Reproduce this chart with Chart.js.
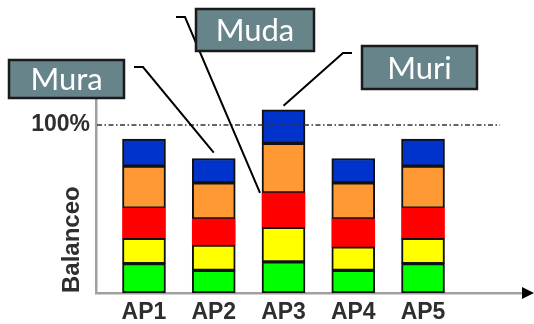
<!DOCTYPE html>
<html>
<head>
<meta charset="utf-8">
<script src="https://cdn.jsdelivr.net/npm/chart.js@4"></script>
<style>
  html, body { margin: 0; padding: 0; background: #ffffff; }
  #wrap { width: 534px; height: 324px; position: relative; }
</style>
</head>
<body>
<div id="wrap"><canvas id="chart" width="534" height="324"></canvas></div>
<script>
// Workstations and the share of the cycle taken by each load layer (in %)
const categories = ['AP1', 'AP2', 'AP3', 'AP4', 'AP5'];
const green  = [17.5, 13.5, 18.5, 13.5, 17.5];
const yellow = [15, 15, 20.5, 14, 15];
const red    = [18, 15.5, 20.5, 16.5, 18];
const orange = [25, 21.5, 29.5, 21.5, 25];
const blue   = [16, 14.5, 20, 14.5, 16];
const yTicks = [100];
const calloutLabels = ['Mura', 'Muda', 'Muri'];

const layers = [
  { values: green,  color: '#00ff00', border: 2 },
  { values: yellow, color: '#ffff00', border: 2 },
  { values: red,    color: '#ff0000', border: 0 },
  { values: orange, color: '#ff9933', border: 2 },
  { values: blue,   color: '#0033cc', border: 2 }
];

const positions = categories.map((c, i) => i + 1);
const TEXT = '#2e2e2e';
const BAR_W = 43;

function sumUpTo(layerCount, idx) {
  let s = 0;
  for (let k = 0; k < layerCount; k++) s += layers[k].values[idx];
  return s;
}

// Reference line at 100 %, x-axis arrow head and the three callouts
const overlay = {
  id: 'overlay',
  afterDatasetsDraw(chart) {
    const { ctx, chartArea, scales: { y } } = chart;
    ctx.save();
    // dash-dot line at the 100 % level
    const y100 = y.getPixelForValue(yTicks[0]);
    ctx.strokeStyle = '#333333';
    ctx.lineWidth = 1.5;
    ctx.setLineDash([5, 2.5, 1.5, 2.5]);
    ctx.beginPath();
    ctx.moveTo(chartArea.left + 1, y100);
    ctx.lineTo(chartArea.right - 25, y100);
    ctx.stroke();
    ctx.setLineDash([]);

    // arrow head at the end of the x axis
    const yb = chartArea.bottom;
    ctx.fillStyle = '#000000';
    ctx.beginPath();
    ctx.moveTo(chartArea.right - 3, yb - 6);
    ctx.lineTo(chartArea.right + 9, yb);
    ctx.lineTo(chartArea.right - 3, yb + 6);
    ctx.closePath();
    ctx.fill();
    ctx.restore();
  },
  afterDraw(chart) {
    const { ctx, scales: { x, y } } = chart;
    const half = BAR_W / 2;
    const callouts = [
      { text: calloutLabels[0], box: [9, 60, 115, 38],
        path: [[134, 67], [143, 67]],
        end: [x.getPixelForValue(2), y.getPixelForValue(sumUpTo(5, 1)) - 6] },
      { text: calloutLabels[1], box: [196, 9, 118, 42],
        path: [[176, 17], [185, 17]],
        end: [x.getPixelForValue(3) - half - 2, y.getPixelForValue(sumUpTo(3, 2))] },
      { text: calloutLabels[2], box: [362, 46, 115, 43],
        path: [[352, 53], [343, 53]],
        end: [x.getPixelForValue(3), y.getPixelForValue(sumUpTo(5, 2)) - 4] }
    ];
    ctx.save();
    callouts.forEach(c => {
      ctx.strokeStyle = '#000000';
      ctx.lineWidth = 2;
      ctx.beginPath();
      ctx.moveTo(c.path[0][0], c.path[0][1]);
      ctx.lineTo(c.path[1][0], c.path[1][1]);
      ctx.lineTo(c.end[0], c.end[1]);
      ctx.stroke();

      const [bx, by, bw, bh] = c.box;
      ctx.fillStyle = '#67848a';
      ctx.fillRect(bx, by, bw, bh);
      ctx.strokeStyle = '#1a1a1a';
      ctx.lineWidth = 2.5;
      ctx.strokeRect(bx, by, bw, bh);

      ctx.fillStyle = '#ffffff';
      ctx.font = '31px Lato, "Open Sans", sans-serif';
      ctx.textAlign = 'center';
      ctx.textBaseline = 'middle';
      ctx.fillText(c.text, bx + bw / 2, by + bh / 2 + 1);
    });
    ctx.restore();
  }
};

new Chart(document.getElementById('chart'), {
  type: 'bar',
  data: {
    datasets: layers.map(l => ({
      data: positions.map((p, i) => ({ x: p, y: l.values[i] })),
      backgroundColor: l.color,
      borderColor: '#111111',
      borderWidth: l.border,
      borderSkipped: false,
      barThickness: BAR_W
    }))
  },
  options: {
    responsive: false,
    animation: false,
    events: [],
    layout: { padding: { left: 25, top: 98, right: 9, bottom: 0 } },
    plugins: { legend: { display: false }, tooltip: { enabled: false } },
    scales: {
      x: {
        type: 'linear',
        stacked: true,
        offset: false,
        min: 0.312,
        max: 6.462,
        afterBuildTicks: s => { s.ticks = positions.map(v => ({ value: v })); },
        afterFit: s => { s.height = 31; },
        ticks: {
          callback: v => categories[v - 1],
          color: TEXT,
          font: { family: '"Liberation Sans", Arial, sans-serif', size: 23, weight: 'bold' },
          padding: 6,
          maxRotation: 0,
          autoSkip: false
        },
        grid: { display: false, drawTicks: false },
        border: { display: true, color: '#a0a0a0', width: 2.5 }
      },
      y: {
        stacked: true,
        min: 0,
        max: 116,
        afterBuildTicks: s => { s.ticks = yTicks.map(v => ({ value: v })); },
        afterFit: s => { s.width = 71; },
        ticks: {
          callback: v => v + '%',
          color: TEXT,
          font: { family: '"Liberation Sans", Arial, sans-serif', size: 23, weight: 'bold' },
          padding: 6
        },
        grid: { display: false, drawTicks: false },
        border: { display: true, color: '#a0a0a0', width: 2.5 },
        title: {
          display: true,
          text: 'Balanceo',
          align: 'start',
          color: TEXT,
          font: { family: '"Liberation Sans", Arial, sans-serif', size: 24, weight: 'bold' },
          padding: { top: 33, bottom: 4 }
        }
      }
    }
  },
  plugins: [overlay]
});
</script>
</body>
</html>
